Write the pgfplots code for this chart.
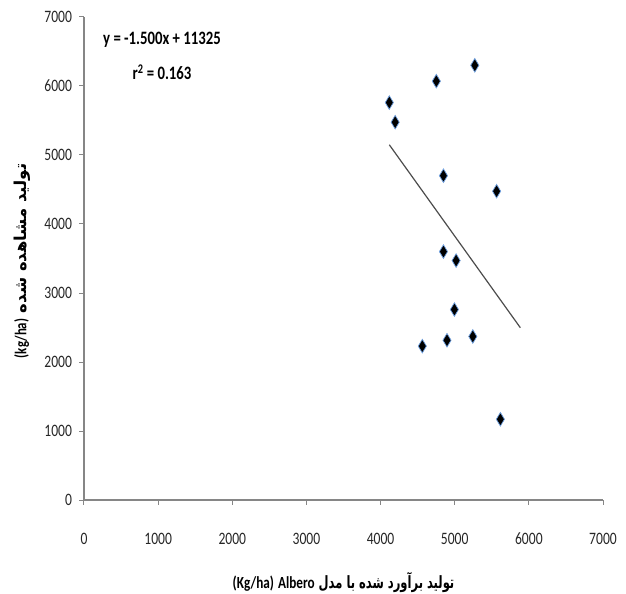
\documentclass[border=0pt]{standalone}
\usepackage{fontspec}
\setmainfont{Carlito}[FakeStretch=0.78]
\newfontfamily\fa[Script=Arabic,FakeStretch=0.68]{DejaVu Sans}
\newfontfamily\fawide[Script=Arabic,FakeStretch=1.0]{DejaVu Sans}
\TeXXeTstate=1
\usepackage{pgfplots}
\pgfplotsset{compat=1.18}

\definecolor{axisgray}{RGB}{134,134,134}
\definecolor{glow}{RGB}{110,160,225}
\newcommand\lat[1]{\beginL{\rmfamily\bfseries #1}\endL}

\begin{document}
\begin{tikzpicture}
\begin{axis}[
  scale only axis,
  width=519bp, height=483bp,
  xmin=0, xmax=7000, ymin=0, ymax=7000,
  xtick={0,1000,...,7000},
  ytick={0,1000,...,7000},
  axis lines*=left,
  axis line style={axisgray, line width=1.2bp},
  tick style={axisgray, line width=1bp},
  tick align=outside,
  major tick length=4.5bp,
  /pgf/number format/assume math mode=true,
  /pgf/number format/1000 sep={},
  tick label style={font=\fontsize{17.5}{19}\selectfont, text=black!85},
  xticklabel style={anchor=center, yshift=-34bp},
  yticklabel style={anchor=east, xshift=-4bp},
  xlabel={\fa\bfseries\fontsize{17}{20}\selectfont\beginR تولید برآورد شده با مدل \lat{Albero} \lat{(Kg/ha)}\endR},
  xlabel style={at={(axis description cs:0.5,-0.170)}, anchor=center},
  ylabel={\fawide\bfseries\fontsize{16.5}{19}\selectfont\beginR تولید مشاهده شده \lat{(kg/ha)}\endR},
  ylabel style={at={(axis description cs:-0.119,0.495)}, anchor=center},
  clip=false,
]
\addplot[only marks, mark=diamond*, mark size=6.8bp,
  mark options={xscale=0.8, fill=black, draw=glow, line width=0.7bp}]
  coordinates {
  (4118,5760) (4197,5475) (4752,6070) (5271,6300)
  (4848,4700) (5565,4475) (4848,3600) (5019,3470)
  (4996,2760) (5244,2370) (4896,2315) (4563,2230)
  (5616,1170)
};
\addplot[no marks, color=black!70, line width=1.2bp]
  coordinates {(4118,5148) (5885,2497)};
\node[font=\bfseries\fontsize{19}{21}\selectfont] at (axis cs:1052,6667) {y = -1.500x + 11325};
\node[font=\bfseries\fontsize{19}{21}\selectfont] at (axis cs:1052,6203) {r\textsuperscript{2} = 0.163};
\end{axis}
\pgfresetboundingbox
\path (-84bp,-94bp) rectangle (542bp,500bp);
\end{tikzpicture}
\end{document}
